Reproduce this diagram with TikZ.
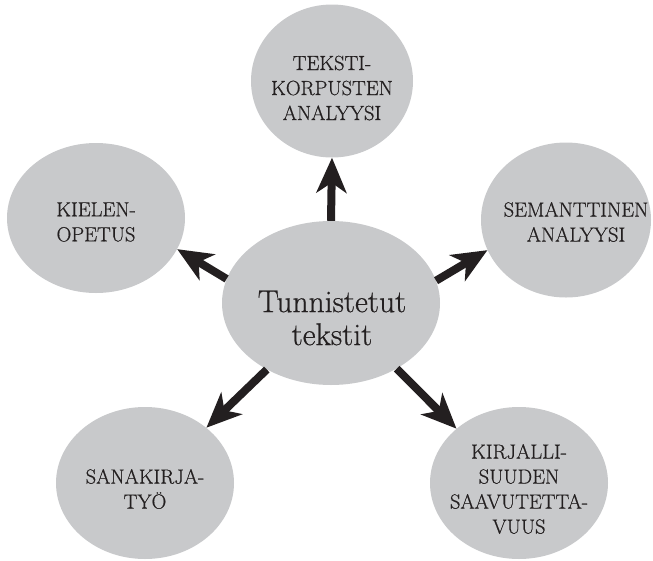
\documentclass[tikz,border=0pt]{standalone}
\usepackage{fontspec}
\setmainfont{Latin Modern Roman}[FakeBold=0.6]
\usetikzlibrary{shapes.geometric,arrows.meta}
\definecolor{bubgray}{RGB}{200,201,203}
\definecolor{ink}{RGB}{35,31,32}
\begin{document}
\begin{tikzpicture}[x=1pt,y=-1pt,
 bub/.style={ellipse, fill=bubgray, draw=none, inner sep=0pt},
 lbl/.style={align=center, inner sep=0pt, font=\fontsize{20.5}{25}\selectfont, text=ink},
 big/.style={align=center, inner sep=0pt, font=\fontsize{31.5}{33}\selectfont, text=ink},
 arr/.style={draw=ink, line width=8pt, -{Stealth[length=35pt,width=30pt,inset=10pt]}}]
\useasboundingbox (0,0) rectangle (653,560);
\node[bub, minimum width=218pt, minimum height=164pt] (c) at (331,303) {};
\node[bub, minimum width=162pt, minimum height=153pt] (t) at (332,81) {};
\node[bub, minimum width=178pt, minimum height=150pt] (l) at (96,218) {};
\node[bub, minimum width=170pt, minimum height=155pt] (r) at (566,220) {};
\node[bub, minimum width=178pt, minimum height=152pt] (bl) at (145,483) {};
\node[bub, minimum width=178pt, minimum height=152pt] (br) at (519,483) {};
\node[big] (ct) at (332,318) {Tunnistetut\\tekstit};
\node[lbl] (tt) at (332,88) {TEKSTI-\\KORPUSTEN\\ANALYYSI};
\node[lbl] (lt) at (96,222) {KIELEN-\\OPETUS};
\node[lbl] (rt) at (576,222) {SEMANTTINEN\\ANALYYSI};
\node[lbl] (blt) at (145,489) {SANAKIRJA-\\TYÖ};
\node[lbl] (brt) at (519,489) {KIRJALLI-\\SUUDEN\\SAAVUTETTA-\\VUUS};
\draw[arr] (c.north) -- (t.south);
\draw[arr] (c.167) -- (l.-21.7);
\draw[arr] (c.12.2) -- (r.201.7);
\draw[arr] (c.226.4) -- (bl.42);
\draw[arr] (c.-45) -- (br.139.3);
\end{tikzpicture}
\end{document}
